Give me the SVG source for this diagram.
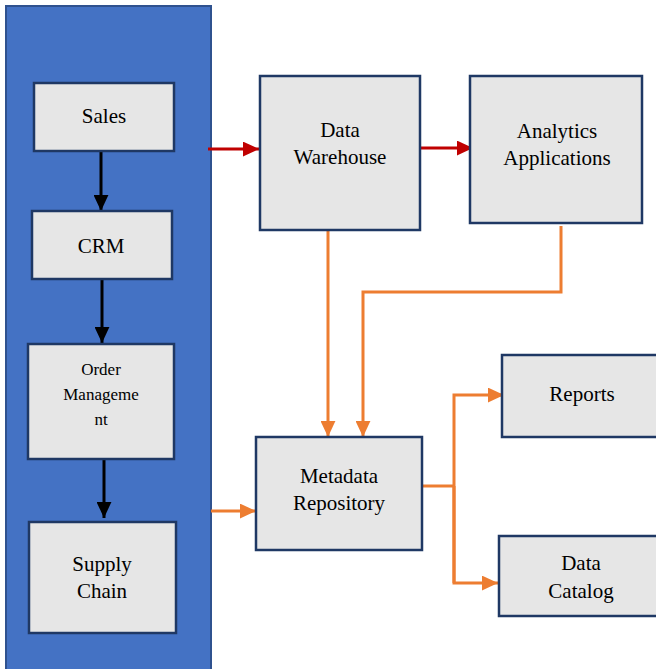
<svg xmlns="http://www.w3.org/2000/svg" width="656" height="669" viewBox="0 0 656 669">
<defs>
<style>
.box{fill:#E6E6E6;stroke:#1F3864;stroke-width:2.5}
text{font-family:'Liberation Serif','Times New Roman',serif;fill:#000;text-anchor:middle}
.t{font-size:21px}
.ts{font-size:17px}
.blk{stroke:#000;stroke-width:3;fill:none}
.red{stroke:#C00000;stroke-width:3;fill:none}
.org{stroke:#ED7D31;stroke-width:3;fill:none}
</style>
<marker id="ab" markerWidth="5.4" markerHeight="5" refX="5.4" refY="2.5" orient="auto" markerUnits="strokeWidth"><path d="M0,0 L5.4,2.5 L0,5 Z" fill="#000"/></marker>
<marker id="ar" markerWidth="5.4" markerHeight="5" refX="5.4" refY="2.5" orient="auto" markerUnits="strokeWidth"><path d="M0,0 L5.4,2.5 L0,5 Z" fill="#C00000"/></marker>
<marker id="ao" markerWidth="5.4" markerHeight="5" refX="5.4" refY="2.5" orient="auto" markerUnits="strokeWidth"><path d="M0,0 L5.4,2.5 L0,5 Z" fill="#ED7D31"/></marker>
</defs>
<rect width="656" height="669" fill="#fff"/>
<g id="panel"><rect x="6" y="6" width="205" height="670" fill="#4472C4" stroke="#2F528F" stroke-width="2"/></g>
<g id="connectors">
<line class="blk" x1="101" y1="152" x2="101" y2="211" marker-end="url(#ab)"/>
<line class="blk" x1="102" y1="280" x2="102" y2="343" marker-end="url(#ab)"/>
<line class="blk" x1="104" y1="459" x2="104" y2="518" marker-end="url(#ab)"/>
<line class="red" x1="208" y1="149" x2="259" y2="149" marker-end="url(#ar)"/>
<line class="red" x1="421" y1="148" x2="473" y2="148" marker-end="url(#ar)"/>
<line class="org" x1="328" y1="224" x2="328" y2="437" marker-end="url(#ao)"/>
<polyline class="org" points="561,226 561,292 363,292 363,437" marker-end="url(#ao)"/>
<line class="org" x1="211" y1="511" x2="256" y2="511" marker-end="url(#ao)"/>
<line class="org" x1="422" y1="486" x2="454" y2="486"/>
<polyline class="org" points="454,583 454,395 504,395" marker-end="url(#ao)"/>
<polyline class="org" points="454,486 454,583 498,583" marker-end="url(#ao)"/>
</g>
<g id="sales"><rect class="box" x="34" y="83" width="140" height="68"/><text class="t" x="104" y="123">Sales</text></g>
<g id="crm"><rect class="box" x="32" y="211" width="140" height="68"/><text class="t" x="101" y="253">CRM</text></g>
<g id="order"><rect class="box" x="28" y="344" width="146" height="115"/><text class="ts" x="101" y="375">Order</text><text class="ts" x="101" y="400">Manageme</text><text class="ts" x="101" y="425">nt</text></g>
<g id="supply"><rect class="box" x="29" y="522" width="147" height="111"/><text class="t" x="102" y="571">Supply</text><text class="t" x="102" y="598">Chain</text></g>
<g id="dw"><rect class="box" x="260" y="76" width="160" height="154"/><text class="t" x="340" y="137">Data</text><text class="t" x="340" y="164">Warehouse</text></g>
<g id="aa"><rect class="box" x="470" y="76" width="172" height="147"/><text class="t" x="557" y="138">Analytics</text><text class="t" x="557" y="165">Applications</text></g>
<g id="meta"><rect class="box" x="256" y="437" width="166" height="113"/><text class="t" x="339" y="483">Metadata</text><text class="t" x="339" y="510">Repository</text></g>
<g id="reports"><rect class="box" x="502" y="355" width="160" height="82"/><text class="t" x="582" y="401">Reports</text></g>
<g id="catalog"><rect class="box" x="499" y="536" width="163" height="80"/><text class="t" x="581" y="570">Data</text><text class="t" x="581" y="598">Catalog</text></g>
</svg>
